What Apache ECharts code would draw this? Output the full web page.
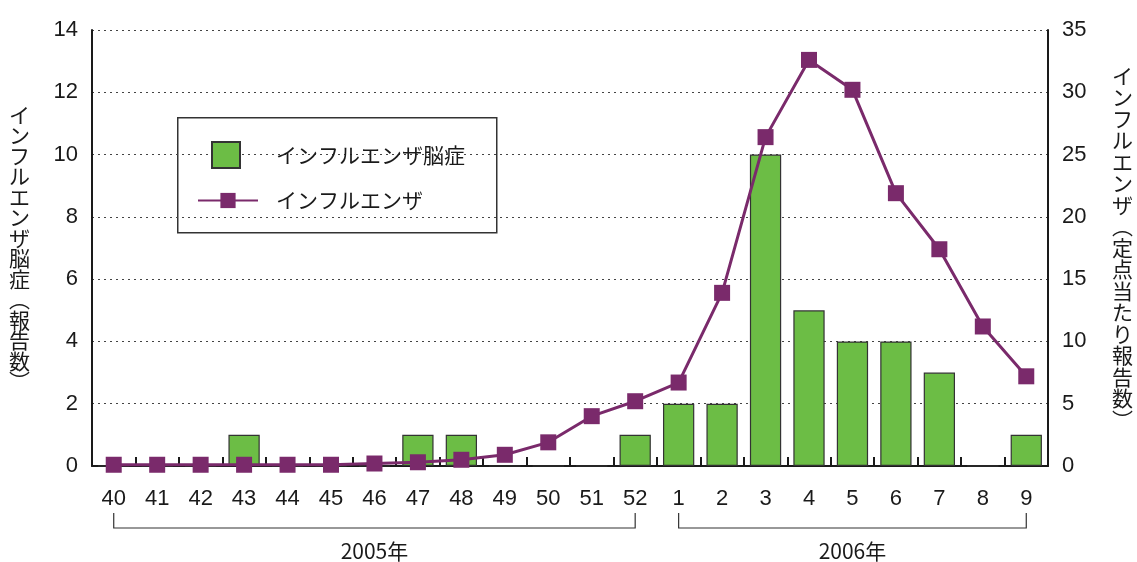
<!DOCTYPE html>
<html>
<head>
<meta charset="utf-8">
<script src="https://cdn.jsdelivr.net/npm/echarts@6/dist/echarts.min.js"></script>
<style>
  html, body { margin: 0; padding: 0; background: #fff; }
  #main { width: 1137px; height: 562px; }
</style>
</head>
<body>
<div id="main"></div>
<script>
const weeks = ['40', '41', '42', '43', '44', '45', '46', '47', '48', '49', '50', '51', '52',
  '1', '2', '3', '4', '5', '6', '7', '8', '9']
// インフルエンザ脳症 (報告数)
const encephalopathy = [0, 0, 0, 1, 0, 0, 0, 1, 1, 0, 0, 0, 1,
  2, 2, 10, 5, 4, 4, 3, 0, 1]
// インフルエンザ (定点当たり報告数)
const influenza = [0.1, 0.1, 0.1, 0.1, 0.1, 0.1, 0.2, 0.3, 0.5, 0.9, 1.9, 4.0, 5.2,
  6.7, 13.9, 26.4, 32.6, 30.2, 21.9, 17.4, 11.2, 7.2]
const yearLabels = ['2005年', '2006年']
const yearFrom = ['40', '1']
const yearTo = ['52', '9']

const BAR_NAME = 'インフルエンザ脳症'
const LINE_NAME = 'インフルエンザ'
const leftTitle = 'インフルエンザ脳症︵報告数︶'
const rightTitle = 'インフルエンザ︵定点当たり報告数︶'

const vertical = (s) => s.split('').join('\n')
const NUM_FONT = '"Liberation Sans", Arial, sans-serif'
const JP_FONT = '"Noto Sans CJK JP", sans-serif'
const INK = '#1a1a1a'

// year brackets under the week labels, placed through the category axis
const renderYear = (params, api) => {
  const from = api.coord([api.value(0), 0])
  const to = api.coord([api.value(2), 0])
  const base = from[1]
  return {
    type: 'group',
    children: [
      {
        type: 'polyline',
        shape: { points: [[from[0], base + 47], [from[0], base + 62], [to[0], base + 62], [to[0], base + 47]] },
        style: { stroke: '#333', lineWidth: 1.2, fill: null }
      },
      {
        type: 'text',
        x: (from[0] + to[0]) / 2,
        y: base + 85,
        style: {
          text: yearLabels[params.dataIndex],
          fontFamily: JP_FONT,
          fontSize: 21,
          fill: INK,
          align: 'center',
          verticalAlign: 'middle'
        }
      }
    ]
  }
}

const chart = echarts.init(document.getElementById('main'))

const option = {
  animation: false,
  grid: { left: 92, right: 89, top: 30, bottom: 96 },
  legend: [
    {
      data: [{ name: BAR_NAME, icon: 'rect' }],
      left: 206,
      top: 136,
      itemWidth: 28,
      itemHeight: 26,
      textStyle: { fontFamily: JP_FONT, fontSize: 21, color: INK, padding: [0, 0, 0, 31] },
      z: 10
    },
    {
      data: [LINE_NAME],
      left: 192,
      top: 185,
      itemWidth: 60,
      itemHeight: 19,
      textStyle: { fontFamily: JP_FONT, fontSize: 21, color: INK, padding: [0, 0, 0, 13] },
      z: 10
    }
  ],
  graphic: [
    {
      type: 'rect',
      left: 177,
      top: 117,
      shape: { width: 319, height: 115 },
      style: { fill: '#fff', stroke: '#333', lineWidth: 1.5 },
      z: 0
    }
  ],
  xAxis: {
    type: 'category',
    data: weeks,
    axisLine: { show: true, lineStyle: { color: INK, width: 2 } },
    axisTick: { show: true, inside: true, length: 9, lineStyle: { color: INK, width: 2 } },
    axisLabel: { fontFamily: NUM_FONT, fontSize: 22, color: INK, margin: 22 }
  },
  yAxis: [
    {
      type: 'value',
      min: 0,
      max: 14,
      interval: 2,
      name: vertical(leftTitle),
      nameLocation: 'middle',
      nameGap: 62,
      nameRotate: 0,
      nameTextStyle: { fontFamily: JP_FONT, fontSize: 21, color: INK, lineHeight: 20.5 },
      axisLine: { show: true, lineStyle: { color: INK, width: 2 } },
      axisTick: { show: false },
      axisLabel: { fontFamily: NUM_FONT, fontSize: 22, color: INK, margin: 14 },
      splitLine: { show: true, lineStyle: { color: '#444', type: [2, 4], width: 1 } }
    },
    {
      type: 'value',
      min: 0,
      max: 35,
      interval: 5,
      position: 'right',
      name: vertical(rightTitle),
      nameLocation: 'middle',
      nameGap: 64,
      nameRotate: 0,
      nameTextStyle: { fontFamily: JP_FONT, fontSize: 21, color: INK, lineHeight: 21.5, padding: [30, 0, 0, 0] },
      axisLine: { show: true, lineStyle: { color: INK, width: 2 } },
      axisTick: { show: false },
      axisLabel: { fontFamily: NUM_FONT, fontSize: 22, color: INK, margin: 14 },
      splitLine: { show: false }
    }
  ],
  series: [
    {
      name: BAR_NAME,
      type: 'bar',
      yAxisIndex: 0,
      data: encephalopathy,
      barWidth: '72%',
      itemStyle: { color: '#6cbd45', borderColor: '#333', borderWidth: 1.2 },
      z: 2
    },
    {
      name: LINE_NAME,
      type: 'line',
      yAxisIndex: 1,
      data: influenza,
      symbol: 'rect',
      symbolSize: 16,
      lineStyle: { color: '#7a2a6b', width: 3 },
      itemStyle: { color: '#7a2a6b' },
      z: 3
    },
    {
      name: 'years',
      type: 'custom',
      xAxisIndex: 0,
      yAxisIndex: 0,
      silent: true,
      clip: false,
      encode: { x: [0, 2], y: 1 },
      data: yearLabels.map((_, i) => [weeks.indexOf(yearFrom[i]), 0, weeks.indexOf(yearTo[i])]),
      renderItem: renderYear,
      z: 1
    }
  ]
}

chart.setOption(option)
</script>
</body>
</html>
